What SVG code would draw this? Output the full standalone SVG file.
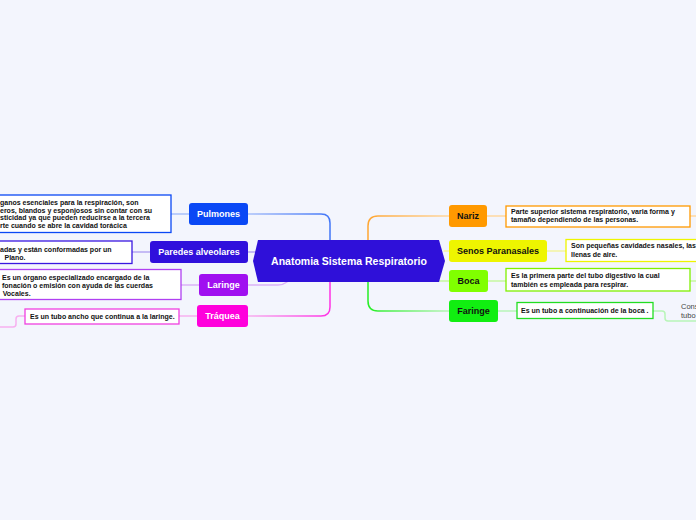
<svg xmlns="http://www.w3.org/2000/svg" width="696" height="520" viewBox="0 0 696 520">
<defs>
<linearGradient id="gPul" gradientUnits="userSpaceOnUse" x1="248" y1="0" x2="332" y2="0"><stop offset="0" stop-color="#a9c0fa"/><stop offset="1" stop-color="#3f74f7"/></linearGradient>
<linearGradient id="gTra" gradientUnits="userSpaceOnUse" x1="248" y1="0" x2="332" y2="0"><stop offset="0" stop-color="#f7b0ef"/><stop offset="1" stop-color="#ff2ee4"/></linearGradient>
<linearGradient id="gNar" gradientUnits="userSpaceOnUse" x1="366" y1="0" x2="449" y2="0"><stop offset="0" stop-color="#ffa530"/><stop offset="1" stop-color="#ffd7a0"/></linearGradient>
<linearGradient id="gFar" gradientUnits="userSpaceOnUse" x1="366" y1="0" x2="449" y2="0"><stop offset="0" stop-color="#22ee22"/><stop offset="1" stop-color="#b8f5b8"/></linearGradient>
</defs>
<style>
.bg{fill:#f3f5fd}
.c{fill:none;stroke-width:1.5;stroke-linecap:round}
.nt{font-family:"Liberation Sans",Arial,sans-serif;font-weight:bold;font-size:9px;text-anchor:middle}
.w{fill:#ffffff}
.k{fill:#111111}
.bx{fill:#ffffff;stroke-width:1.3}
.bt{font-family:"Liberation Sans",Arial,sans-serif;font-weight:bold;font-size:7px;fill:#111111}
.rt{font-family:"Liberation Sans",Arial,sans-serif;font-size:7.5px;fill:#444444}
</style>
<rect class="bg" x="0" y="0" width="696" height="520"/>
<g id="connectors">
<path class="c" stroke="url(#gPul)" d="M248,214 H321 Q330,214 330,223 V240"/>
<path class="c" stroke="#a9c0fa" d="M171,214 H189"/>
<path class="c" stroke="#b7a8f2" d="M248,252 H256"/>
<path class="c" stroke="#b7a8f2" d="M132,252 H150"/>
<path class="c" stroke="#dcb2f8" d="M248,285 H278 Q283,285 287,282"/>
<path class="c" stroke="#dcb2f8" d="M181,285 H199"/>
<path class="c" stroke="url(#gTra)" d="M248,316 H321 Q330,316 330,307 V282"/>
<path class="c" stroke="#f7b0ef" d="M179,316 H197"/>
<path class="c" stroke="#f7b0ef" d="M25,316 H19 Q16,316 16,319 V324 Q16,327 13,327 H0"/>
<path class="c" stroke="url(#gNar)" d="M368,240 V226 Q368,216 378,216 H449"/>
<path class="c" stroke="#ffd7a0" d="M487,216 H506"/>
<path class="c" stroke="#ffd7a0" d="M690,216 H696"/>
<path class="c" stroke="#f4f4a0" d="M444,251 H449"/>
<path class="c" stroke="#f4f4a0" d="M547,251 H566"/>
<path class="c" stroke="#c6f7a0" d="M439,281 H449"/>
<path class="c" stroke="#c6f7a0" d="M488,281 H506"/>
<path class="c" stroke="#c6f7a0" d="M690,281 H696"/>
<path class="c" stroke="url(#gFar)" d="M368,282 V301 Q368,311 378,311 H449"/>
<path class="c" stroke="#b8f5b8" d="M498,311 H517"/>
<path class="c" stroke="#b8f5b8" d="M653,311 H662 Q665,311 665,314 V318 Q665,321 668,321 H696"/>
</g>
<g id="center">
<polygon points="253,261 258,240 439,240 445,261 439,282 258,282" fill="#2f10d9"/>
<text class="nt w" x="349" y="265" style="font-size:10.5px">Anatomia Sistema Respiratorio</text>
</g>
<g id="pulmones">
<rect x="189" y="203" width="59" height="22" rx="3" fill="#0a48f5"/>
<text class="nt w" x="218.5" y="217.2">Pulmones</text>
</g>
<g id="pulmones-texto">
<rect class="bx" x="-5" y="195" width="176" height="37.5" stroke="#0a48f5"/>
<text class="bt" x="0" y="205">ganos esenciales para la respiración,  son</text>
<text class="bt" x="0" y="212.7">eros, blandos y esponjosos sin contar con su</text>
<text class="bt" x="0" y="220.4">sticidad ya que pueden reducirse a la tercera</text>
<text class="bt" x="0" y="228.1">rte cuando se abre la cavidad torácica</text>
</g>
<g id="paredes">
<rect x="150" y="241" width="98" height="22" rx="3" fill="#3010dc"/>
<text class="nt w" x="199" y="255.2">Paredes alveolares</text>
</g>
<g id="paredes-texto">
<rect class="bx" x="-5" y="241" width="137" height="22.5" stroke="#3a18e0"/>
<text class="bt" x="0" y="251.5">adas y están conformadas por un</text>
<text class="bt" x="4.5" y="260">Plano.</text>
</g>
<g id="laringe">
<rect x="199" y="274" width="49" height="22" rx="3" fill="#a010f0"/>
<text class="nt w" x="223.5" y="288.2">Laringe</text>
</g>
<g id="laringe-texto">
<rect class="bx" x="-5" y="269.5" width="186" height="30" stroke="#b040f2"/>
<text class="bt" x="2" y="280">Es un órgano especializado encargado de la</text>
<text class="bt" x="2" y="287.8">fonación o emisión con ayuda de las cuerdas</text>
<text class="bt" x="2.7" y="295.5">Vocales.</text>
</g>
<g id="traquea">
<rect x="197" y="305" width="51" height="22" rx="3" fill="#ff00dc"/>
<text class="nt w" x="222.5" y="319.2">Tráquea</text>
</g>
<g id="traquea-texto">
<rect class="bx" x="25" y="309" width="154" height="15" stroke="#f040e0"/>
<text class="bt" x="30" y="319">Es un tubo ancho que continua a la laringe.</text>
</g>
<g id="nariz">
<rect x="449" y="205" width="38" height="22" rx="3" fill="#ff9900"/>
<text class="nt k" x="468" y="219.2">Nariz</text>
</g>
<g id="nariz-texto">
<rect class="bx" x="506" y="206" width="184" height="21" stroke="#ff9900"/>
<text class="bt" x="511" y="213.5">Parte superior sistema respiratorio, varia forma y</text>
<text class="bt" x="511" y="222">tamaño dependiendo de las personas.</text>
</g>
<g id="senos">
<rect x="449" y="240" width="98" height="22" rx="3" fill="#eef500"/>
<text class="nt k" x="498" y="254.2">Senos Paranasales</text>
</g>
<g id="senos-texto">
<rect class="bx" x="566" y="239.5" width="140" height="22" stroke="#eef500"/>
<text class="bt" x="571" y="248">Son pequeñas cavidades nasales, las</text>
<text class="bt" x="571" y="256.5">llenas de aire.</text>
</g>
<g id="boca">
<rect x="449" y="270" width="39" height="22" rx="3" fill="#80ff00"/>
<text class="nt k" x="468.5" y="284.2">Boca</text>
</g>
<g id="boca-texto">
<rect class="bx" x="506" y="268.5" width="184" height="22.5" stroke="#80f000"/>
<text class="bt" x="511" y="278">Es la primera parte del tubo digestivo la cual</text>
<text class="bt" x="511" y="286.8">también es empleada para respirar.</text>
</g>
<g id="faringe">
<rect x="449" y="300" width="49" height="22" rx="3" fill="#11ee11"/>
<text class="nt k" x="473.5" y="314.2">Faringe</text>
</g>
<g id="faringe-texto">
<rect class="bx" x="517" y="302.5" width="136" height="16" stroke="#22dd22"/>
<text class="bt" x="521" y="313">Es un tubo a continuación de la boca .</text>
</g>
<g id="faringe-sub">
<text class="rt" x="681" y="309">Cons</text>
<text class="rt" x="681" y="317.5">tubo</text>
</g>
</svg>
